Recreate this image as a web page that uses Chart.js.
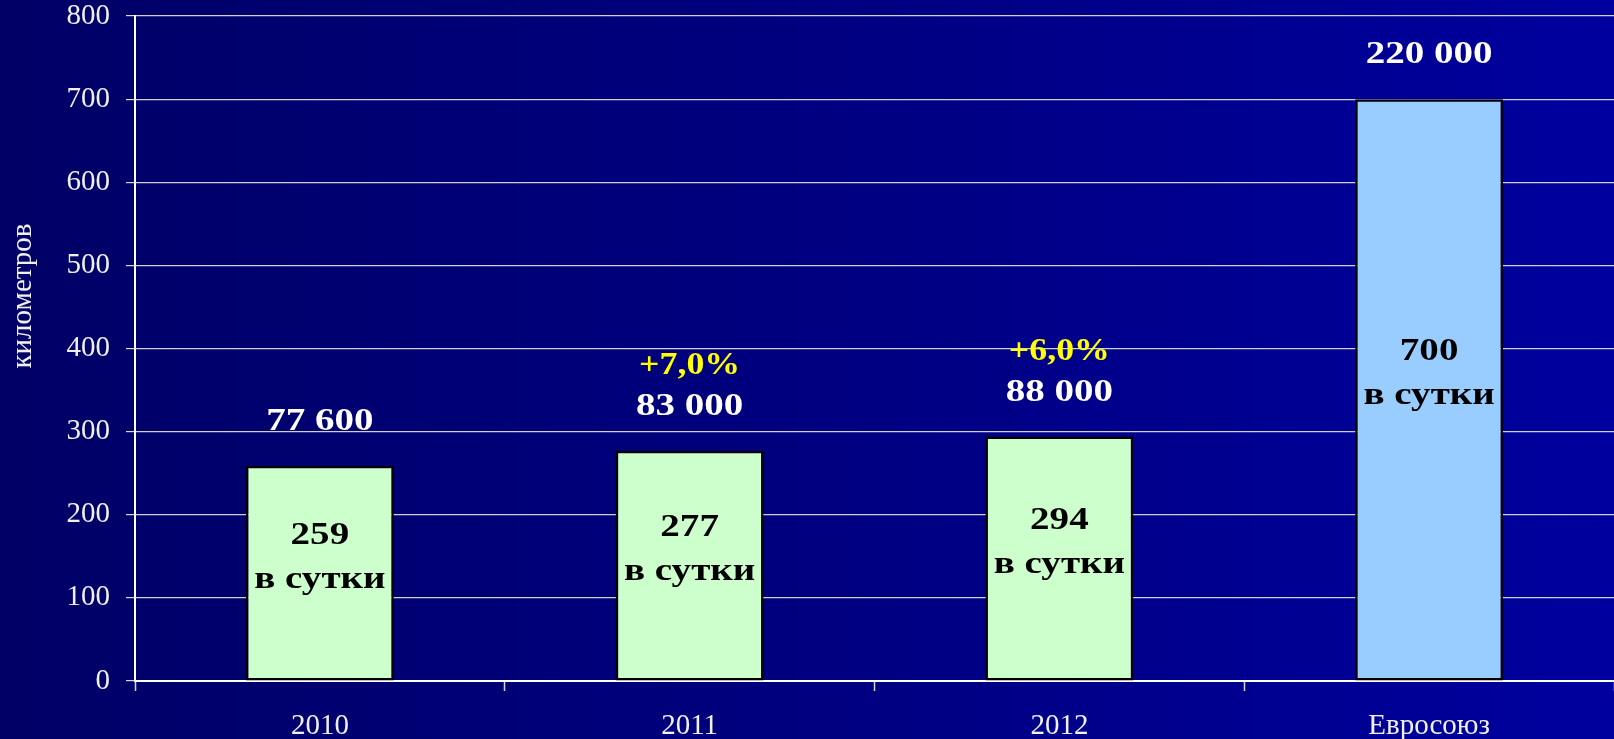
<!DOCTYPE html>
<html lang="ru">
<head>
    <meta charset="UTF-8">
    <title>Километров в сутки</title>
    <script src="https://cdn.jsdelivr.net/npm/chart.js"></script>
    <style>
        html, body { margin: 0; padding: 0; background: #000070; }
        #box { width: 1614px; height: 739px; }
    </style>
</head>
<body>
<div id="box">
    <canvas id="grafico" width="1614" height="739"></canvas>
</div>
<script>
// данные
const categorias = ['2010', '2011', '2012', 'Евросоюз'];
const kmSutki = [259, 277, 294, 700];
const kmVsego = ['77 600', '83 000', '88 000', '220 000'];
const prirost = ['', '+7,0%', '+6,0%', ''];
const podpis = 'в сутки';
const yMin = 0;
const yMax = 800;
const yShag = 100;
const osTitle = 'километров';

const serif = '"Liberation Serif", "Times New Roman", serif';

function tekst(ctx, s, x, y, font, color, stretch) {
    ctx.save();
    ctx.font = font;
    ctx.fillStyle = color;
    ctx.textAlign = 'center';
    ctx.textBaseline = 'middle';
    ctx.translate(x, y);
    ctx.scale(stretch, 1);
    ctx.fillText(s, 0, 0);
    ctx.restore();
}

const fon = {
    id: 'fon',
    beforeDraw(chart) {
        const ctx = chart.ctx;
        const g = ctx.createLinearGradient(0, 0, chart.width, 0);
        g.addColorStop(0, '#000066');
        g.addColorStop(0.5, '#000080');
        g.addColorStop(1, '#00009e');
        ctx.save();
        ctx.fillStyle = g;
        ctx.fillRect(0, 0, chart.width, chart.height);
        ctx.restore();
    }
};

const metki = {
    id: 'metki',
    afterDatasetsDraw(chart) {
        const ctx = chart.ctx;
        const y = chart.scales.y;
        const meta = chart.getDatasetMeta(0);
        const bold = 'bold 32px ' + serif;
        meta.data.forEach(function (bar, i) {
            const verh = y.getPixelForValue(kmSutki[i]);
            const seredina = y.getPixelForValue(kmSutki[i] / 2) - 16;
            tekst(ctx, kmVsego[i], bar.x, verh - 44, bold, '#ffffff', 1.22);
            if (prirost[i]) {
                tekst(ctx, prirost[i], bar.x, verh - 85, bold, '#ffff00', 1.12);
            }
            tekst(ctx, String(kmSutki[i]), bar.x, seredina - 22, bold, '#000000', 1.22);
            tekst(ctx, podpis, bar.x, seredina + 22, bold, '#000000', 1.22);
        });

        // подпись оси
        ctx.save();
        ctx.translate(23, 296);
        ctx.rotate(-Math.PI / 2);
        ctx.font = '29px ' + serif;
        ctx.fillStyle = '#f0f0f0';
        ctx.textAlign = 'center';
        ctx.textBaseline = 'middle';
        ctx.fillText(osTitle, 0, 0);
        ctx.restore();
    }
};

const config = {
    type: 'bar',
    data: {
        labels: categorias,
        datasets: [{
            data: kmSutki,
            backgroundColor: ['#ccffcc', '#ccffcc', '#ccffcc', '#99ccff'],
            borderColor: '#000000',
            borderWidth: 2.5,
            borderSkipped: false,
            categoryPercentage: 1,
            barPercentage: 0.4
        }]
    },
    plugins: [fon, metki],
    options: {
        responsive: false,
        animation: false,
        layout: { padding: { top: 16, right: 0, left: 0, bottom: 0 } },
        plugins: {
            legend: { display: false },
            tooltip: { enabled: false }
        },
        scales: {
            x: {
                afterFit(scale) {
                    scale.height = 58;
                    scale.paddingLeft = 0;
                    scale.paddingRight = 0;
                },
                grid: {
                    offset: true,
                    drawOnChartArea: false,
                    tickLength: 10,
                    tickColor: '#d8d8d8',
                    tickWidth: 1.5
                },
                border: { color: '#ffffff', width: 2 },
                ticks: {
                    color: '#f0f0f0',
                    padding: 18,
                    font: { family: serif, size: 29 }
                }
            },
            y: {
                min: yMin,
                max: yMax,
                afterFit(scale) {
                    scale.width = 135;
                    scale.paddingTop = 0;
                    scale.paddingBottom = 0;
                },
                grid: {
                    color: '#d0d0d8',
                    lineWidth: 1.2,
                    tickLength: 9,
                    tickColor: '#d8d8d8'
                },
                border: { color: '#ffffff', width: 2 },
                ticks: {
                    stepSize: yShag,
                    color: '#f0f0f0',
                    padding: 16,
                    font: { family: serif, size: 29 }
                }
            }
        }
    }
};

new Chart(document.getElementById('grafico'), config);
</script>
</body>
</html>
